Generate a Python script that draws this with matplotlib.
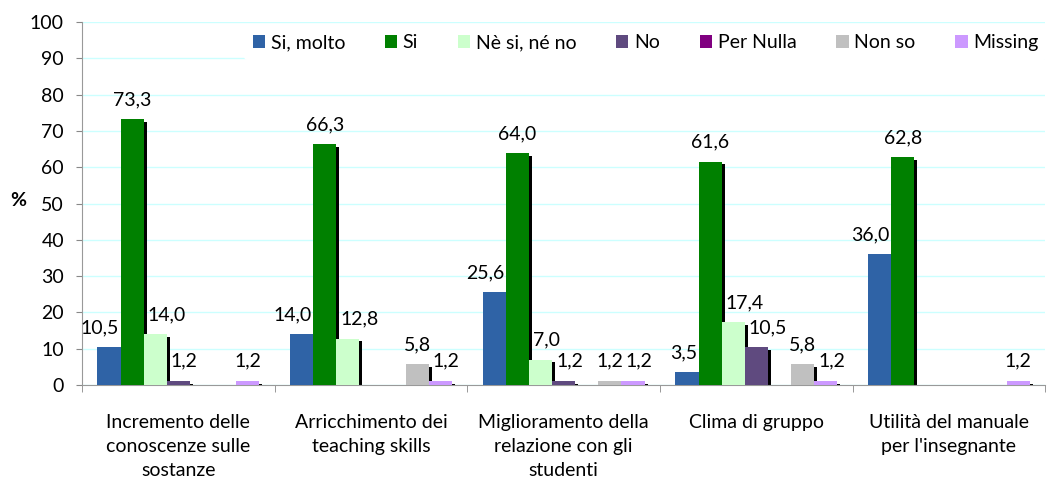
import numpy as np
import matplotlib
matplotlib.use('Agg')
import matplotlib.pyplot as plt
from matplotlib.patches import Patch

# Categories (x axis groups)
categories = [
    'Incremento delle\nconoscenze sulle\nsostanze',
    'Arricchimento dei\nteaching skills',
    'Miglioramento della\nrelazione con gli\nstudenti',
    'Clima di gruppo',
    "Utilità del manuale\nper l'insegnante",
]

# Series values (%), one list per answer
si_molto = [10.5, 14.0, 25.6, 3.5, 36.0]
si = [73.3, 66.3, 64.0, 61.6, 62.8]
ne_si_ne_no = [14.0, 12.8, 7.0, 17.4, 0.0]
no = [1.2, 0.0, 1.2, 10.5, 0.0]
per_nulla = [0.0, 0.0, 0.0, 0.0, 0.0]
non_so = [0.0, 5.8, 1.2, 5.8, 0.0]
missing = [1.2, 1.2, 1.2, 1.2, 1.2]

series_names = ['Si, molto', 'Si', 'Nè si, né no', 'No', 'Per Nulla', 'Non so', 'Missing']
series_values = [si_molto, si, ne_si_ne_no, no, per_nulla, non_so, missing]
series_colors = ['#2f63a6', '#008000', '#ccffcc', '#5f4a7f', '#800080', '#c0c0c0', '#cc99ff']

y_ticks = list(range(0, 101, 10))


def fmt(v):
    return f'{v:.1f}'.replace('.', ',')


def plot_chart(output_path='out.png'):
    plt.rcParams['font.family'] = ['Lato', 'DejaVu Sans']
    fs = 14
    fig = plt.figure(figsize=(10.58, 4.83), dpi=100)
    ax = fig.add_axes([0.0775, 0.203, 0.9105, 0.751])

    n_groups = len(categories)
    n_series = len(series_names)
    width = 0.12
    x = np.arange(n_groups)
    # shadow offset, in data units (~3 px right, ~3 px down)
    dx, dy = 0.0155, 0.8

    # Shadows first, behind every bar
    for k, vals in enumerate(series_values):
        pos = x + (k - (n_series - 1) / 2) * width
        for p, v in zip(pos, vals):
            if v > 0:
                ax.bar(p + dx, max(v - dy, 0.3), width, color='black', zorder=2, linewidth=0)

    for k, vals in enumerate(series_values):
        pos = x + (k - (n_series - 1) / 2) * width
        ax.bar(pos, vals, width, color=series_colors[k], zorder=3, linewidth=0)

    # Data labels, pushed away from taller neighbours
    for k, vals in enumerate(series_values):
        pos = x + (k - (n_series - 1) / 2) * width
        for i, (p, v) in enumerate(zip(pos, vals)):
            if v <= 0:
                continue
            prev_v = series_values[k - 1][i] if k > 0 else 0
            next_v = series_values[k + 1][i] if k < n_series - 1 else 0
            if prev_v > 0 and prev_v >= v:
                xy, ha, off = (p - width / 2, v), 'left', 3
            elif next_v > v:
                xy, ha, off = (p + width / 2, v), 'right', -1
            else:
                xy, ha, off = (p, v), 'center', 0
            ax.annotate(fmt(v), xy=xy, xytext=(off, 10), textcoords='offset points',
                        ha=ha, va='baseline', fontsize=fs, color='black', zorder=5)

    ax.set_xlim(-0.5, n_groups - 0.5)
    ax.set_ylim(0, 100)
    ax.set_yticks(y_ticks)
    ax.tick_params(axis='y', labelsize=fs, length=4, color='#888888', pad=9)
    fig.text(18 / 1058, 1 - 200 / 483, '%', fontsize=fs, fontweight='bold',
             ha='center', va='center')

    ax.set_xticks(x)
    ax.set_xticklabels(categories, fontsize=fs, linespacing=1.5)
    ax.set_xticks(np.arange(n_groups + 1) - 0.5, minor=True)
    ax.tick_params(axis='x', which='major', length=0, pad=21)
    ax.tick_params(axis='x', which='minor', length=5, color='#888888')

    ax.grid(axis='y', color='#ccffff', linewidth=1, zorder=0)
    ax.set_axisbelow(True)
    for side in ['top', 'right']:
        ax.spines[side].set_visible(False)
    ax.spines['left'].set_color('#999999')
    ax.spines['bottom'].set_color('#999999')

    handles = [Patch(facecolor=c, edgecolor='none') for c in series_colors]
    leg = fig.legend(handles, series_names, loc='upper left', ncol=n_series,
                     bbox_to_anchor=(0.2305, 0.947), fontsize=fs, frameon=True,
                     handlelength=0.62, handleheight=0.62, handletextpad=0.3,
                     columnspacing=2.05, borderpad=0.45, borderaxespad=0)
    leg.get_frame().set_facecolor('white')
    leg.get_frame().set_edgecolor('none')
    leg.get_frame().set_alpha(1)

    fig.savefig(output_path, dpi=100)
    plt.close(fig)


if __name__ == "__main__":
    plot_chart()
